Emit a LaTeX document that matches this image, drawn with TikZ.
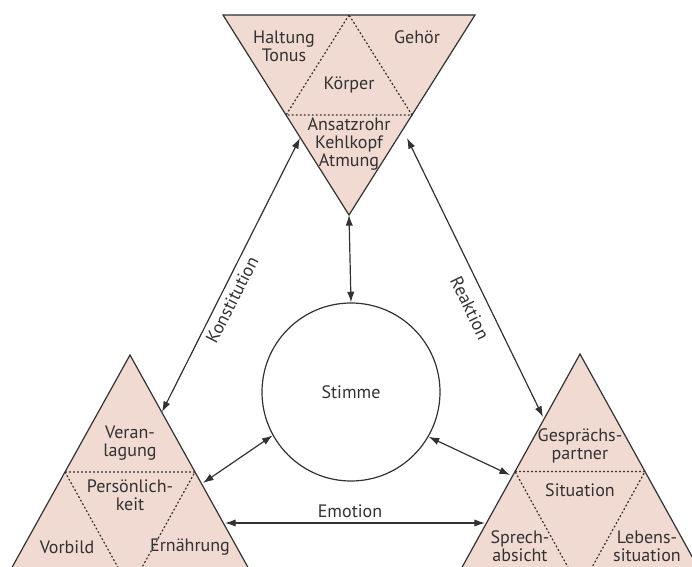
\documentclass[tikz,border=0pt]{standalone}
\usepackage{fontspec}
\setmainfont{PT Sans}
\usetikzlibrary{
    arrows.meta,
    calc
}
\definecolor{Blush}{RGB}{240,218,210}
\definecolor{InkGray}{RGB}{50,50,50}

\begin{document}
\begin{tikzpicture}[
    x=0.75pt,
    y=-0.75pt,
    >={Latex[length=8pt,width=5.5pt]},
    rand/.style={draw=InkGray, line width=0.9pt, fill=Blush},
    teil/.style={draw=InkGray, line width=0.9pt, dash pattern=on 1.4pt off 1.6pt},
    txt/.style={text=InkGray, align=center, inner sep=0pt,
        font=\fontsize{13.5}{13.5}\selectfont},
    pfeil/.style={<->, draw=InkGray, line width=0.9pt}
]
\useasboundingbox (0,0) rectangle (692,567);
\clip (0,0) rectangle (692,567);

% Koerper (oben)
\coordinate (k1) at (223,15);
\coordinate (k2) at (475,15);
\coordinate (k3) at (349,215);
\filldraw[rand] (k1) -- (k2) -- (k3) -- cycle;
\draw[teil] ($(k1)!0.5!(k2)$) -- ($(k1)!0.5!(k3)$) -- ($(k2)!0.5!(k3)$) -- cycle;

\node[txt] (haltung) at (284,46) {Haltung\\Tonus};
\node[txt] (gehoer) at (417,37) {Gehör};
\node[txt] (koerper) at (349,85) {Körper};
\node[txt] (ansatz) at (349,144) {Ansatzrohr\\Kehlkopf\\Atmung};

% Persoenlichkeit (links)
\coordinate (p1) at (130,355);
\coordinate (p2) at (0,589);
\coordinate (p3) at (260,589);
\filldraw[rand] (p1) -- (p2) -- (p3) -- cycle;
\draw[teil] ($(p1)!0.5!(p2)$) -- ($(p1)!0.5!(p3)$) -- ($(p2)!0.5!(p3)$) -- cycle;

\node[txt] (anlage) at (130,443) {Veran-\\lagung};
\node[txt] (person) at (130,495) {Persönlich-\\keit};
\node[txt] (vorbild) at (67,547) {Vorbild};
\node[txt] (ernaehrung) at (190,547) {Ernährung};

% Situation (rechts)
\coordinate (s1) at (580,354);
\coordinate (s2) at (450,589);
\coordinate (s3) at (710,589);
\filldraw[rand] (s1) -- (s2) -- (s3) -- cycle;
\draw[teil] ($(s1)!0.5!(s2)$) -- ($(s1)!0.5!(s3)$) -- ($(s2)!0.5!(s3)$) -- cycle;

\node[txt] (partner) at (580,446) {Gesprächs-\\partner};
\node[txt] (situation) at (580,490) {Situation};
\node[txt] (absicht) at (520,546) {Sprech-\\absicht};
\node[txt] (leben) at (647,546) {Lebens-\\situation};

% Stimme
\node[
    draw=InkGray,
    line width=0.9pt,
    circle,
    minimum size=133.5pt,
    inner sep=0pt,
    txt
] (stimme) at (351,392) {Stimme};

% Verbindungen
\coordinate (konstO) at (300,138);
\coordinate (konstU) at (162,412);
\coordinate (reaktO) at (407,138);
\coordinate (reaktU) at (543,417);
\coordinate (stimL) at (203,483);
\coordinate (stimR) at (510,475);
\coordinate (emoL) at (225,523);
\coordinate (emoR) at (485,523);

\draw[pfeil] (k3) -- (stimme.north);
\draw[pfeil] (konstO) -- (konstU);
\draw[pfeil] (reaktO) -- (reaktU);
\draw[pfeil] (stimme.209) -- (stimL);
\draw[pfeil] (stimme.330) -- (stimR);
\draw[pfeil] (emoL) -- (emoR);

\node[txt, rotate=63] (konst) at (232,300) {Konstitution};
\node[txt, rotate=-64] (reakt) at (470,308) {Reaktion};
\node[txt] (emo) at (350,511) {Emotion};

\end{tikzpicture}
\end{document}
